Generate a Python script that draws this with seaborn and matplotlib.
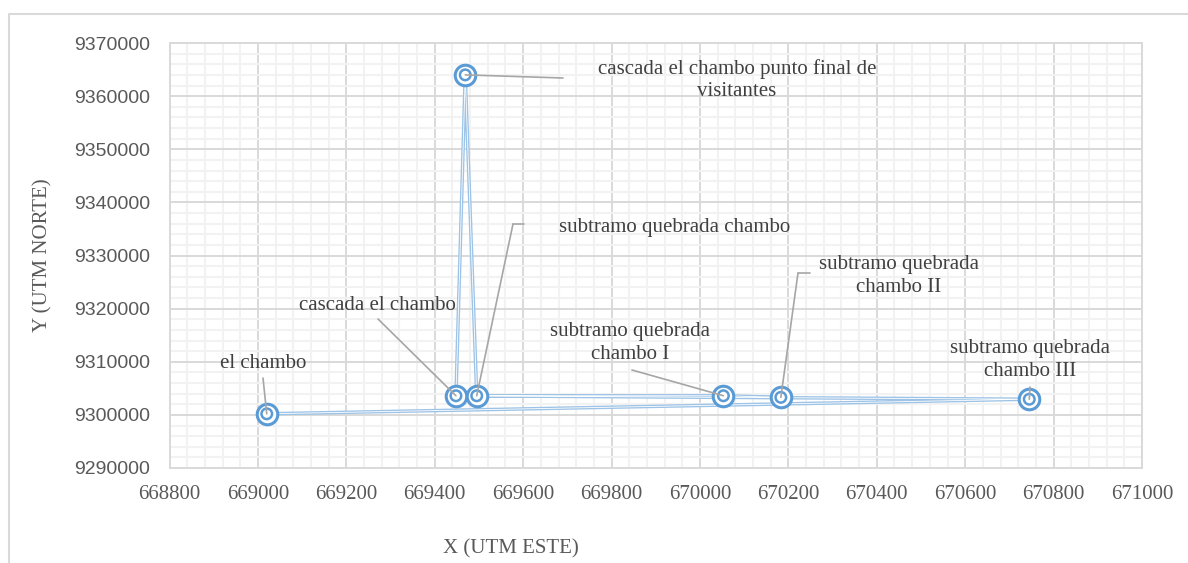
import numpy as np
import pandas as pd
import matplotlib
matplotlib.use("Agg")
import matplotlib.pyplot as plt
import matplotlib.patheffects as pe
from matplotlib.lines import Line2D
from matplotlib.ticker import MultipleLocator
import seaborn as sns

# ---- data ----
puntos = ["el chambo", "cascada el chambo",
          "cascada el chambo punto final de visitantes",
          "subtramo quebrada chambo", "subtramo quebrada chambo I",
          "subtramo quebrada chambo II", "subtramo quebrada chambo III"]
este = [669020, 669448, 669469, 669495, 670053, 670183, 670745]
norte = [9300200, 9303600, 9364000, 9303600, 9303600, 9303300, 9302950]

# order in which the line visits the points
recorrido = ["el chambo", "subtramo quebrada chambo III", "cascada el chambo",
             "cascada el chambo punto final de visitantes",
             "subtramo quebrada chambo", "subtramo quebrada chambo I",
             "subtramo quebrada chambo II"]

etiquetas = ["el chambo", "cascada el chambo",
             "cascada el chambo punto final de\nvisitantes",
             "subtramo quebrada chambo", "subtramo quebrada\nchambo I",
             "subtramo quebrada\nchambo II", "subtramo quebrada\nchambo III"]

x_ticks = list(range(668800, 671001, 200))
y_ticks = list(range(9290000, 9370001, 10000))

# ---- layout (pixels of the 1188x563 picture) ----
W, H = 1188, 563
L, R, T, B = 169.5, 1142, 43, 468

# label centre and leader polyline (from label side), per point
pos_etiqueta = [(263, 363), (377, 305), (737, 80), (675, 227),
                (630, 343), (899, 276), (1030, 360)]
guias = [[(263, 378)], [(378, 319)], [(563, 78)], [(524, 224), (513, 224)],
         [(632, 370)], [(810, 273), (798, 273)], [(1030, 387)]]

AZUL = "#5B9BD5"
AZUL_LINEA = "#9DC3E6"
GRIS_GUIA = "#A6A6A6"
TEXTO = "#404040"
TICK = "#595959"


def ax_frac(px, py):
    return ((px - L) / (R - L), (B - py) / (B - T))


sns.set_style("white")
plt.rcParams["font.family"] = ["Liberation Serif", "DejaVu Serif"]

fig = plt.figure(figsize=(W / 100, H / 100), dpi=100)
ax = fig.add_axes([L / W, 1 - B / H, (R - L) / W, (B - T) / H])

df = pd.DataFrame({"punto": puntos, "este": este, "norte": norte})
ruta = df.set_index("punto").loc[recorrido].reset_index()

# double line look: light blue stroke with a thin white core
sns.lineplot(data=ruta, x="este", y="norte", sort=False, estimator=None,
             color="white", lw=0.6, ax=ax, zorder=2,
             path_effects=[pe.Stroke(linewidth=2.5, foreground=AZUL_LINEA),
                           pe.Normal()])

# double circle markers
sns.scatterplot(data=df, x="este", y="norte", s=14.8 ** 2, marker="o",
                facecolor="white", edgecolor=AZUL, linewidth=2.2, ax=ax,
                zorder=3)
sns.scatterplot(data=df, x="este", y="norte", s=7.6 ** 2, marker="o",
                facecolor="none", edgecolor=AZUL, linewidth=1.8, ax=ax,
                zorder=4)

# labels with leader lines
for i, txt in enumerate(etiquetas):
    fx, fy = ax_frac(*pos_etiqueta[i])
    ax.text(fx, fy, txt, transform=ax.transAxes, ha="center", va="center",
            multialignment="center", fontsize=15, color=TEXTO,
            linespacing=1.25, zorder=6)
    pts = [ax_frac(*p) for p in guias[i]]
    for a, b in zip(pts[:-1], pts[1:]):
        ax.plot([a[0], b[0]], [a[1], b[1]], transform=ax.transAxes,
                color=GRIS_GUIA, lw=1.2, zorder=5)
    ax.annotate("", xy=(este[i], norte[i]), xycoords="data",
                xytext=pts[-1], textcoords="axes fraction",
                arrowprops=dict(arrowstyle="-", color=GRIS_GUIA, lw=1.2,
                                shrinkA=0, shrinkB=0), zorder=5)

# axes, grid, ticks
ax.set_xlim(x_ticks[0], x_ticks[-1])
ax.set_ylim(y_ticks[0], y_ticks[-1])
ax.set_xticks(x_ticks)
ax.set_yticks(y_ticks)
ax.set_xticklabels([str(v) for v in x_ticks], fontsize=15, color=TICK)
ax.set_yticklabels([str(v) for v in y_ticks], fontsize=14, color=TICK,
                   family=["Liberation Sans", "DejaVu Sans"])
ax.xaxis.set_minor_locator(MultipleLocator(40))
ax.yaxis.set_minor_locator(MultipleLocator(2000))
ax.tick_params(which="both", length=0)
ax.tick_params(axis="x", pad=12)
ax.tick_params(axis="y", pad=14)
ax.grid(which="minor", color="#F2F2F2", lw=1.5)
ax.grid(which="major", color="#D9D9D9", lw=1.4)
ax.set_axisbelow(True)
for s in ax.spines.values():
    s.set_color("#D9D9D9")
    s.set_linewidth(1.4)
ax.set_xlabel("")
ax.set_ylabel("")

fig.text(511 / W, 1 - 549 / H, "X (UTM ESTE)", ha="center", va="center",
         fontsize=15, color=TICK)
fig.text(43 / W, 1 - 255 / H, "Y (UTM NORTE)", ha="center", va="center",
         rotation=90, fontsize=15, color=TICK)

# chart area border (left and top visible)
fig.add_artist(Line2D([9 / W, 9 / W, 1], [0, 1 - 14 / H, 1 - 14 / H],
                      transform=fig.transFigure, color="#D9D9D9", lw=1.5))

fig.savefig("out.png", dpi=100)
